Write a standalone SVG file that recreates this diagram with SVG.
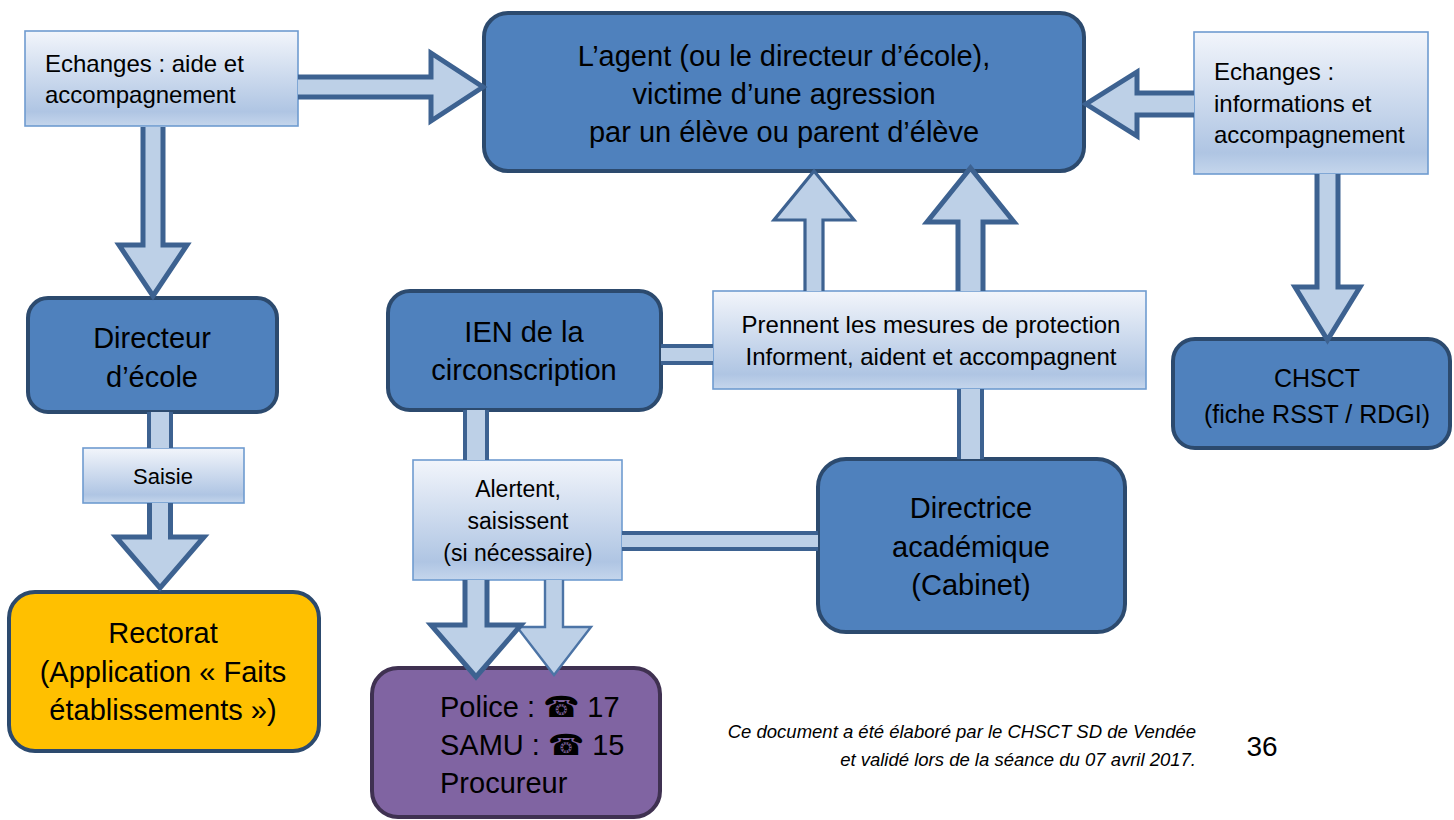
<svg xmlns="http://www.w3.org/2000/svg" width="1454" height="820" viewBox="0 0 1454 820">
<style>
  .node { fill: #4f81bd; stroke: #2c4a6e; stroke-width: 4; }
  .rect { fill: #ffc000; stroke: #2c4a6e; stroke-width: 4; }
  .pol { fill: #8064a2; stroke: #3f3151; stroke-width: 4; }
  .lbl { fill: url(#lg); stroke: #6f9bd0; stroke-width: 1.6; }
  .t { font-family: "Liberation Sans", Arial, sans-serif; fill: #000; }
  .c { text-anchor: middle; }
  .big { font-size: 29px; }
  .mid { font-size: 24px; }
  .arr { fill: #bdd0e7; stroke: #3d6291; stroke-linejoin: miter; }
  .w5 { stroke-width: 5; }
  .w3 { stroke-width: 3.2; }
  .w2 { stroke-width: 2.4; stroke: #4c74a6; }
  .barf { fill: #bdd0e7; stroke: none; }
  .bars { fill: none; stroke: #3d6291; stroke-width: 4; }
  .ph { font-family: "DejaVu Sans", sans-serif; }
</style>
<defs>
  <linearGradient id="lg" x1="0" y1="0" x2="0" y2="1">
    <stop offset="0" stop-color="#f2f5fb"/>
    <stop offset="0.85" stop-color="#afc5e3"/>
    <stop offset="1" stop-color="#c5d6ec"/>
  </linearGradient>
</defs>
<rect width="1454" height="820" fill="#ffffff"/>

<g id="n-agent">
  <rect class="node" x="484" y="13" width="600" height="158" rx="24"/>
  <text class="t c big" x="784" y="66">L’agent (ou le directeur d’école),</text>
  <text class="t c big" x="784" y="104">victime d’une agression</text>
  <text class="t c big" x="784" y="142">par un élève ou parent d’élève</text>
</g>
<g id="n-echanges-aide">
  <rect class="lbl" x="25" y="31" width="273" height="95"/>
  <text class="t mid" x="45" y="72">Echanges : aide et</text>
  <text class="t mid" x="45" y="103">accompagnement</text>
</g>
<g id="n-directeur">
  <rect class="node" x="28" y="298" width="249" height="114" rx="20"/>
  <text class="t c big" x="152" y="348">Directeur</text>
  <text class="t c big" x="152" y="387">d’école</text>
</g>
<g id="n-saisie">
  <rect class="lbl" x="83" y="448" width="161" height="55"/>
  <text class="t c" x="163" y="484" font-size="22">Saisie</text>
</g>
<g id="n-rectorat">
  <rect class="rect" x="9" y="592" width="310" height="159" rx="26"/>
  <text class="t c big" x="163" y="643">Rectorat</text>
  <text class="t c big" x="163" y="682">(Application « Faits</text>
  <text class="t c big" x="163" y="720">établissements »)</text>
</g>
<g id="n-ien">
  <rect class="node" x="388" y="291" width="273" height="119" rx="22"/>
  <text class="t c big" x="524" y="342">IEN de la</text>
  <text class="t c big" x="524" y="380">circonscription</text>
</g>
<g id="n-prennent">
  <rect class="lbl" x="713" y="291" width="433" height="98"/>
  <text class="t c mid" x="931" y="333">Prennent les mesures de protection</text>
  <text class="t c mid" x="931" y="365">Informent, aident et accompagnent</text>
</g>
<g id="n-alertent">
  <rect class="lbl" x="413" y="460" width="209" height="120"/>
  <text class="t c" x="518" y="497" font-size="23">Alertent,</text>
  <text class="t c" x="518" y="529" font-size="23">saisissent</text>
  <text class="t c" x="518" y="561" font-size="23">(si nécessaire)</text>
</g>
<g id="n-directrice">
  <rect class="node" x="818" y="459" width="307" height="173" rx="28"/>
  <text class="t c big" x="971" y="518">Directrice</text>
  <text class="t c big" x="971" y="557">académique</text>
  <text class="t c big" x="971" y="595">(Cabinet)</text>
</g>
<g id="n-police">
  <rect class="pol" x="372" y="668" width="288" height="149" rx="26"/>
  <text class="t big" x="440" y="717">Police : <tspan class="ph">☎</tspan> 17</text>
  <text class="t big" x="440" y="755">SAMU : <tspan class="ph">☎</tspan> 15</text>
  <text class="t big" x="440" y="793">Procureur</text>
</g>
<g id="n-echanges-info">
  <rect class="lbl" x="1194" y="32" width="234" height="142"/>
  <text class="t mid" x="1214" y="80">Echanges :</text>
  <text class="t mid" x="1214" y="112">informations et</text>
  <text class="t mid" x="1214" y="143">accompagnement</text>
</g>
<g id="n-chsct">
  <rect class="node" x="1173" y="339" width="277" height="109" rx="22"/>
  <text class="t c" x="1317" y="387" font-size="25">CHSCT</text>
  <text class="t c" x="1317" y="423" font-size="25">(fiche RSST / RDGI)</text>
</g>

<g id="connectors">
  <!-- echanges aide -> agent -->
  <path class="arr w5" d="M298,77 H431 V53 L483,87 L431,121 V97 H298"/>
  <!-- echanges aide -> directeur -->
  <path class="arr w5" d="M143,127 V245 H119 L153,296 L187,245 H163 V127"/>
  <!-- directeur - saisie -->
  <rect class="barf" x="149" y="412" width="22" height="36"/>
  <path class="bars" d="M149,412 V448 M171,412 V448"/>
  <!-- saisie -> rectorat -->
  <path class="arr w5" d="M149.5,503 V537 H116 L160,588 L204,537 H170.5 V503"/>
  <!-- ien - prennent -->
  <rect class="barf" x="661" y="346" width="52" height="17"/>
  <path class="bars" d="M661,346 H713 M661,363 H713"/>
  <!-- prennent -> agent (1) -->
  <path class="arr w3" d="M805,291 V220 H774 L814,171 L854,220 H823 V291"/>
  <!-- prennent -> agent (2) -->
  <path class="arr w5" d="M958,291 V222 H927 L970.5,168 L1014,222 H983 V291"/>
  <!-- prennent - directrice -->
  <rect class="barf" x="959" y="389" width="23" height="70"/>
  <path class="bars" d="M959,389 V459 M982,389 V459"/>
  <!-- ien - alertent -->
  <rect class="barf" x="465" y="410" width="22" height="50"/>
  <path class="bars" d="M465,410 V460 M487,410 V460"/>
  <!-- alertent - directrice -->
  <rect class="barf" x="622" y="533" width="196" height="16"/>
  <path class="bars" d="M622,533 H818 M622,549 H818"/>
  <!-- alertent -> police (B) -->
  <path class="arr w2" d="M545,580 V627 H517 L554,675 L591,627 H563 V580"/>
  <!-- alertent -> police (A) -->
  <path class="arr w5" d="M465,580 V625 H431 L476,677 L521,625 H487 V580"/>
  <!-- echanges info -> agent -->
  <path class="arr w5" d="M1194,93 H1137 V72 L1086,104 L1137,136 V115 H1194"/>
  <!-- echanges info -> chsct -->
  <path class="arr w5" d="M1317,174 V287 H1295 L1327.5,340 L1360,287 H1338 V174"/>
</g>

<g id="footer">
  <text class="t" x="1196" y="738" font-size="18.5" font-style="italic" text-anchor="end">Ce document a été élaboré par le CHSCT SD de Vendée</text>
  <text class="t" x="1196" y="766" font-size="18.5" font-style="italic" text-anchor="end">et validé lors de la séance du 07 avril 2017.</text>
  <text class="t c" x="1262" y="756" font-size="28">36</text>
</g>
</svg>
